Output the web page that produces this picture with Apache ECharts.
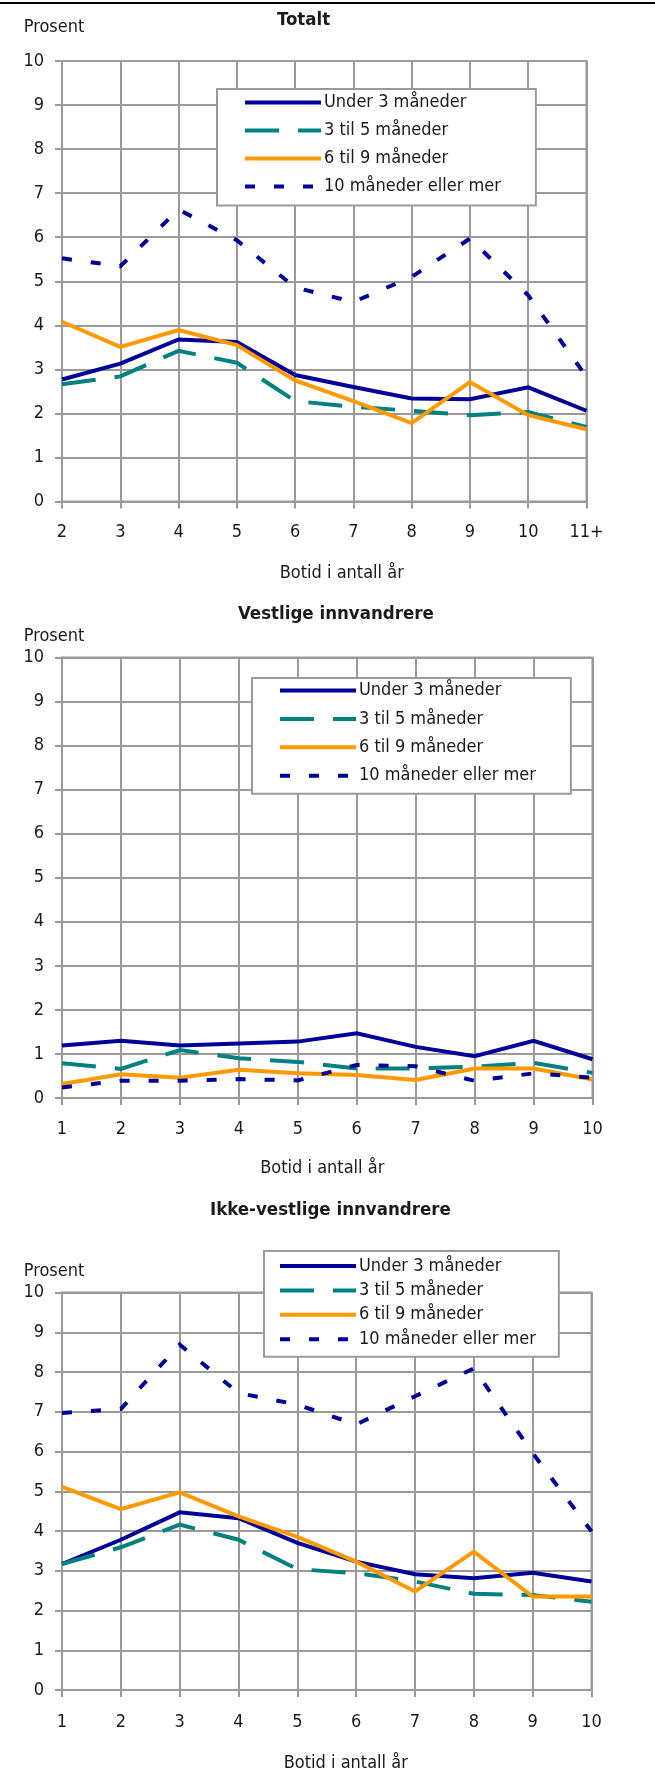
<!DOCTYPE html>
<html>
<head>
<meta charset="utf-8">
<script src="https://cdn.jsdelivr.net/npm/echarts@6/dist/echarts.min.js"></script>
<style>
  html, body { margin: 0; padding: 0; background: #fff; }
  #rule { position: absolute; left: 0; top: 2px; width: 655px; height: 2px; background: #000; }
  #chart { width: 655px; height: 1773px; }
</style>
</head>
<body>
<div id="chart"></div>
<div id="rule"></div>
<script>
// categories
const catsTotal = ['2', '3', '4', '5', '6', '7', '8', '9', '10', '11+']
const catsYears = ['1', '2', '3', '4', '5', '6', '7', '8', '9', '10']
const seriesNames = ['Under 3 måneder', '3 til 5 måneder', '6 til 9 måneder', '10 måneder eller mer']

// Totalt
const totUnder3 = [2.77, 3.13, 3.68, 3.62, 2.87, 2.60, 2.34, 2.32, 2.59, 2.06]
const tot3til5 = [2.66, 2.84, 3.42, 3.15, 2.28, 2.15, 2.06, 1.96, 2.03, 1.69]
const tot6til9 = [4.08, 3.51, 3.89, 3.55, 2.75, 2.28, 1.78, 2.71, 1.96, 1.64]
const tot10pluss = [5.52, 5.34, 6.63, 5.93, 4.86, 4.53, 5.10, 5.97, 4.68, 2.83]

// Vestlige innvandrere
const vestUnder3 = [1.19, 1.30, 1.19, 1.24, 1.28, 1.47, 1.16, 0.95, 1.30, 0.88]
const vest3til5 = [0.79, 0.66, 1.09, 0.90, 0.82, 0.67, 0.67, 0.71, 0.80, 0.57]
const vest6til9 = [0.32, 0.54, 0.46, 0.64, 0.56, 0.52, 0.41, 0.67, 0.67, 0.42]
const vest10pluss = [0.24, 0.39, 0.39, 0.43, 0.40, 0.75, 0.72, 0.39, 0.56, 0.46]

// Ikke-vestlige innvandrere
const ikkeUnder3 = [3.17, 3.78, 4.47, 4.32, 3.70, 3.23, 2.91, 2.81, 2.95, 2.73]
const ikke3til5 = [3.17, 3.59, 4.16, 3.78, 3.04, 2.94, 2.73, 2.42, 2.39, 2.22]
const ikke6til9 = [5.11, 4.55, 4.97, 4.37, 3.85, 3.23, 2.48, 3.48, 2.35, 2.35]
const ikke10pluss = [6.97, 7.07, 8.69, 7.47, 7.18, 6.68, 7.39, 8.09, 5.96, 3.99]

const yTicks = [0, 1, 2, 3, 4, 5, 6, 7, 8, 9, 10]

const FONT = "'DejaVu Sans Condensed', 'DejaVu Sans', sans-serif"
const FS = 18
const TEXT = '#1a1a1a'
const GRID = '#9a9a9a'
const colors = ['#000099', '#008080', '#ff9900', '#000099']
const lineTypes = ['solid', [34, 19], 'solid', [10, 19]]

const chart = echarts.init(document.getElementById('chart'))

function xAxis(gridIndex, cats, labelMargin, nameGap, namePad) {
  return {
    type: 'category',
    gridIndex,
    data: cats,
    boundaryGap: false,
    name: 'Botid i antall år',
    nameLocation: 'middle',
    nameGap,
    nameTextStyle: { fontFamily: FONT, fontSize: FS, color: TEXT, padding: namePad },
    axisLine: { show: true, lineStyle: { color: GRID, width: 2 } },
    axisTick: { show: true, length: 7, lineStyle: { color: GRID, width: 2 } },
    axisLabel: { fontFamily: FONT, fontSize: FS, color: TEXT, margin: labelMargin },
    splitLine: { show: true, lineStyle: { color: GRID, width: 2 } }
  }
}

function yAxis(gridIndex, nameGap) {
  return {
    type: 'value',
    gridIndex,
    min: yTicks[0],
    max: yTicks[yTicks.length - 1],
    interval: 1,
    name: 'Prosent',
    nameLocation: 'end',
    nameGap,
    nameTextStyle: { fontFamily: FONT, fontSize: FS, color: TEXT, padding: [0, 16, 0, 0] },
    axisLine: { show: true, lineStyle: { color: GRID, width: 2 } },
    axisTick: { show: true, length: 7, lineStyle: { color: GRID, width: 2 } },
    axisLabel: { fontFamily: FONT, fontSize: FS, color: TEXT, margin: 18 },
    splitLine: { show: true, lineStyle: { color: GRID, width: 2 } }
  }
}

function legend(left, top, padding, itemGap) {
  return {
    orient: 'vertical',
    left,
    top,
    padding,
    itemGap,
    itemWidth: 76,
    itemHeight: 14,
    data: seriesNames,
    backgroundColor: '#fff',
    borderColor: GRID,
    borderWidth: 2,
    borderRadius: 0,
    selectedMode: false,
    itemStyle: { opacity: 0 },
    lineStyle: { width: 4 },
    textStyle: { fontFamily: FONT, fontSize: FS, color: TEXT, lineHeight: 20, padding: [0, 0, 0, -2] }
  }
}

function lines(idx, arrays) {
  return arrays.map((data, i) => ({
    name: seriesNames[i],
    type: 'line',
    xAxisIndex: idx,
    yAxisIndex: idx,
    data,
    symbol: 'none',
    color: colors[i],
    lineStyle: { color: colors[i], width: 4, type: lineTypes[i], join: 'miter' },
    emphasis: { disabled: true },
    z: 3 + i
  }))
}

const titleStyle = { fontFamily: FONT, fontSize: 18.5, fontWeight: 'bold', color: TEXT }

chart.setOption({
  animation: false,
  backgroundColor: '#fff',
  title: [
    { text: 'Totalt', left: 277, top: 11, padding: 0, textStyle: titleStyle },
    { text: 'Vestlige innvandrere', left: 238, top: 605, padding: 0, textStyle: titleStyle },
    { text: 'Ikke-vestlige innvandrere', left: 210, top: 1201, padding: 0, textStyle: titleStyle }
  ],
  legend: [
    legend(217, 89, [3.5, 35, 9, 26], 8),
    legend(252, 678, [2.5, 35, 8, 26], 8.4),
    legend(264, 1251, [5, 23, 7.5, 14], 4.4)
  ],
  grid: [
    { left: 62, top: 61, width: 524.5, height: 440.5, show: true, borderColor: GRID, borderWidth: 2 },
    { left: 62, top: 657.5, width: 530.5, height: 440.5, show: true, borderColor: GRID, borderWidth: 2 },
    { left: 62, top: 1292.5, width: 529.5, height: 397.5, show: true, borderColor: GRID, borderWidth: 2 }
  ],
  xAxis: [
    xAxis(0, catsTotal, 22, 63, [0, 0, 0, 35]),
    xAxis(1, catsYears, 22, 61, [0, 10, 0, 0]),
    xAxis(2, catsYears, 23, 64, [0, 0, 0, 38])
  ],
  yAxis: [yAxis(0, 25), yAxis(1, 12), yAxis(2, 12)],
  series: [
    ...lines(0, [totUnder3, tot3til5, tot6til9, tot10pluss]),
    ...lines(1, [vestUnder3, vest3til5, vest6til9, vest10pluss]),
    ...lines(2, [ikkeUnder3, ikke3til5, ikke6til9, ikke10pluss])
  ]
})

window.addEventListener('resize', () => chart.resize())
</script>
</body>
</html>
